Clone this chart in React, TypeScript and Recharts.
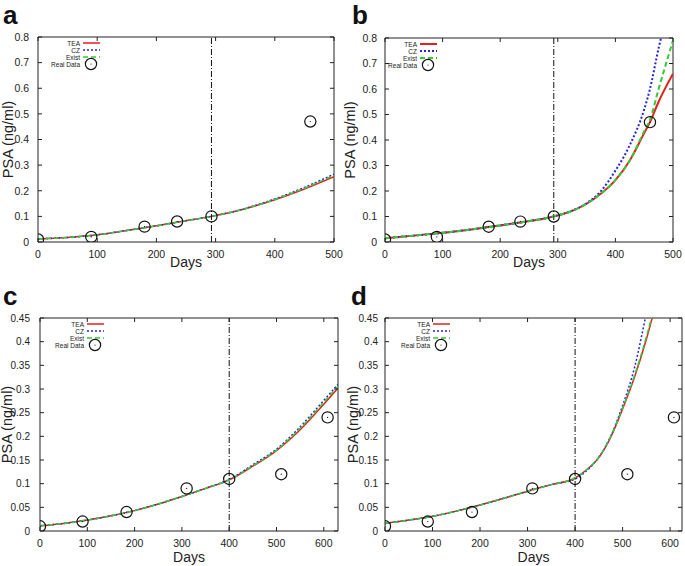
import { ComposedChart, Line, Scatter, XAxis, YAxis, ReferenceLine, Legend } from 'recharts';

// panels a/b: measured PSA
const abDataDays = [0, 90, 180, 235, 293, 460];
const abDataPSA = [0.01, 0.02, 0.06, 0.08, 0.1, 0.47];

// panel a model fits
const aDays = [0, 50, 100, 150, 200, 250, 293, 350, 400, 450, 500];
const aTEA = [0.012, 0.018, 0.028, 0.045, 0.063, 0.083, 0.1, 0.13, 0.165, 0.207, 0.255];
const aCZ = [0.012, 0.018, 0.028, 0.045, 0.063, 0.083, 0.1, 0.131, 0.168, 0.213, 0.265];
const aExist = [0.012, 0.018, 0.028, 0.045, 0.063, 0.083, 0.1, 0.13, 0.166, 0.21, 0.26];

// panel b model fits
const bDays = [0, 50, 100, 150, 200, 250, 293, 325, 350, 375, 400, 425, 450, 460, 475, 500];
const bTEA = [0.015, 0.025, 0.036, 0.049, 0.065, 0.082, 0.1, 0.122, 0.15, 0.19, 0.243, 0.32, 0.427, 0.47, 0.55, 0.66];
const bCZ = [0.015, 0.025, 0.036, 0.049, 0.065, 0.082, 0.1, 0.123, 0.152, 0.2, 0.28, 0.38, 0.52, 0.6, 0.76, 0.98];
const bExist = [0.015, 0.025, 0.036, 0.049, 0.065, 0.082, 0.1, 0.122, 0.15, 0.19, 0.243, 0.32, 0.435, 0.48, 0.6, 0.79];

// panels c/d: measured PSA
const cdDataDays = [0, 90, 183, 310, 400, 510, 608];
const cdDataPSA = [0.01, 0.02, 0.04, 0.09, 0.11, 0.12, 0.24];

// panel c model fits
const cDays = [0, 50, 100, 150, 200, 250, 300, 350, 400, 450, 500, 550, 600, 630];
const cTEA = [0.011, 0.016, 0.023, 0.032, 0.043, 0.057, 0.073, 0.09, 0.108, 0.137, 0.17, 0.214, 0.268, 0.302];
const cCZ = [0.011, 0.016, 0.023, 0.032, 0.043, 0.057, 0.073, 0.09, 0.109, 0.14, 0.173, 0.22, 0.276, 0.31];
const cExist = [0.011, 0.016, 0.023, 0.032, 0.043, 0.057, 0.073, 0.09, 0.108, 0.138, 0.171, 0.217, 0.272, 0.306];

// panel d model fits
const dDays = [0, 50, 100, 150, 200, 250, 300, 350, 400, 425, 450, 475, 500, 525, 550, 575];
const dTEA = [0.016, 0.023, 0.031, 0.042, 0.055, 0.069, 0.084, 0.098, 0.112, 0.13, 0.155, 0.198, 0.258, 0.325, 0.405, 0.5];
const dCZ = [0.016, 0.023, 0.031, 0.042, 0.055, 0.069, 0.084, 0.098, 0.11, 0.128, 0.156, 0.2, 0.265, 0.345, 0.46, 0.58];
const dExist = [0.016, 0.023, 0.031, 0.042, 0.055, 0.069, 0.084, 0.098, 0.112, 0.13, 0.156, 0.2, 0.26, 0.328, 0.41, 0.505];

const abXTicks = [0, 100, 200, 300, 400, 500];
const abYTicks = [0, 0.1, 0.2, 0.3, 0.4, 0.5, 0.6, 0.7, 0.8];
const cdXTicks = [0, 100, 200, 300, 400, 500, 600];
const cdYTicks = [0, 0.05, 0.1, 0.15, 0.2, 0.25, 0.3, 0.35, 0.4, 0.45];

const FONT = "'Liberation Sans', Arial, sans-serif";
const INK = '#222';
const RED = '#e3211c';
const BLUE = '#2424d8';
const GREEN = '#35c935';
const TICK_LEN = 4;

type Pt = { x: number; y: number };
const zip = (xs: number[], ys: number[]): Pt[] => xs.map((x, i) => ({ x, y: ys[i] }));

const Ring = (props: any) => {
  const { cx, cy } = props;
  if (cx == null || cy == null) return null;
  return (
    <g>
      <circle cx={cx} cy={cy} r={5.6} fill="none" stroke="#111" strokeWidth={1.2} />
      <circle cx={cx} cy={cy} r={0.6} fill="#111" />
    </g>
  );
};

// gnuplot style: inward ticks mirrored on the opposite side of the box
const makeXTick = (top: number, bottom: number) => (props: any) => {
  const { x, payload } = props;
  return (
    <g>
      <line x1={x} x2={x} y1={bottom} y2={bottom - TICK_LEN} stroke={INK} />
      <line x1={x} x2={x} y1={top} y2={top + TICK_LEN} stroke={INK} />
      <text x={x} y={bottom + 15.5} textAnchor="middle" fontSize={10.5} fill={INK} fontFamily={FONT}>
        {String(payload.value)}
      </text>
    </g>
  );
};

const makeYTick = (left: number, right: number, gap: number, size: number) => (props: any) => {
  const { y, payload } = props;
  return (
    <g>
      <line x1={left} x2={left + TICK_LEN} y1={y} y2={y} stroke={INK} />
      <line x1={right} x2={right - TICK_LEN} y1={y} y2={y} stroke={INK} />
      <text x={left - gap} y={y + size * 0.36} textAnchor="end" fontSize={size} fill={INK} fontFamily={FONT}>
        {String(payload.value)}
      </text>
    </g>
  );
};

const legendRows = [
  { label: 'TEA', color: RED, dash: undefined },
  { label: 'CZ', color: BLUE, dash: '2 2' },
  { label: 'Exist', color: GREEN, dash: '5 3' },
];

const makeLegend = (textRight: number, lw: number) => () => (
  <svg width={textRight + 24} height={34} style={{ display: 'block' }}>
    {legendRows.map((r, i) => (
      <g key={r.label}>
        <text x={textRight} y={6 + 7 * i} textAnchor="end" dominantBaseline="central" fontSize={6.5} fill={INK} fontFamily={FONT}>
          {r.label}
        </text>
        <line x1={textRight + 3} x2={textRight + 20} y1={6 + 7 * i} y2={6 + 7 * i} stroke={r.color} strokeWidth={lw} strokeDasharray={r.dash} />
      </g>
    ))}
    <text x={textRight} y={27} textAnchor="end" dominantBaseline="central" fontSize={6.5} fill={INK} fontFamily={FONT}>
      Real Data
    </text>
    <Ring cx={textRight + 11} cy={27} />
  </svg>
);

interface PanelProps {
  letter: string;
  letterX: number;
  letterY: number;
  left: number;
  top: number;
  width: number;
  height: number;
  margin: { top: number; right: number; bottom: number; left: number };
  yWidth: number;
  xHeight: number;
  xMax: number;
  xTicks: number[];
  yMax: number;
  yTicks: number[];
  tea: Pt[];
  cz: Pt[];
  exist: Pt[];
  real: Pt[];
  split: number;
  yGap: number;
  yTickSize: number;
  yLabelOffset: number;
  xLabelOffset: number;
  legendRight: number;
  lineWidth: number;
}

const Panel = (p: PanelProps) => {
  const plotLeft = p.margin.left + p.yWidth;
  const plotRight = p.width - p.margin.right;
  const plotTop = p.margin.top;
  const plotBottom = p.height - p.margin.bottom - p.xHeight;
  return (
    <div style={{ position: 'absolute', left: p.left, top: p.top, width: p.width, height: p.height }}>
      <ComposedChart width={p.width} height={p.height} margin={p.margin}>
        <XAxis
          type="number"
          dataKey="x"
          domain={[0, p.xMax]}
          ticks={p.xTicks}
          interval={0}
          allowDataOverflow
          tick={makeXTick(plotTop, plotBottom)}
          tickLine={false}
          height={p.xHeight}
          stroke={INK}
          label={{ value: 'Days', position: 'insideBottom', offset: p.xLabelOffset, fill: INK, fontSize: 14, fontFamily: FONT }}
        />
        <YAxis
          type="number"
          domain={[0, p.yMax]}
          ticks={p.yTicks}
          interval={0}
          allowDataOverflow
          tick={makeYTick(plotLeft, plotRight, p.yGap, p.yTickSize)}
          tickLine={false}
          width={p.yWidth}
          stroke={INK}
          label={{ value: 'PSA (ng/ml)', angle: -90, position: 'insideLeft', offset: p.yLabelOffset, fill: INK, fontSize: 14.5, fontFamily: FONT, style: { textAnchor: 'middle' } }}
        />
        <ReferenceLine y={p.yMax} stroke={INK} strokeWidth={1} />
        <ReferenceLine x={p.xMax} stroke={INK} strokeWidth={1} />
        <ReferenceLine x={p.split} stroke="#111" strokeWidth={1} strokeDasharray="6 2 1 2" />
        <Line data={p.tea} dataKey="y" type="monotone" stroke={RED} strokeWidth={p.lineWidth} dot={false} isAnimationActive={false} />
        <Line data={p.cz} dataKey="y" type="monotone" stroke={BLUE} strokeWidth={p.lineWidth} strokeDasharray="2 2" dot={false} isAnimationActive={false} />
        <Line data={p.exist} dataKey="y" type="monotone" stroke={GREEN} strokeWidth={p.lineWidth} strokeDasharray="5 3" dot={false} isAnimationActive={false} />
        <Scatter data={p.real} dataKey="y" shape={Ring} isAnimationActive={false} />
        <Legend
          layout="vertical"
          align="center"
          verticalAlign="middle"
          content={makeLegend(p.legendRight, p.lineWidth)}
          wrapperStyle={{ left: plotLeft, top: plotTop, width: 'auto', height: 'auto' }}
        />
      </ComposedChart>
      <svg width={40} height={40} style={{ position: 'absolute', left: 0, top: 0, overflow: 'visible' }}>
        <text x={p.letterX} y={p.letterY} fontSize={26} fontWeight="bold" fill="#111" fontFamily={FONT}>
          {p.letter}
        </text>
      </svg>
    </div>
  );
};

const abReal = zip(abDataDays, abDataPSA);
const cdReal = zip(cdDataDays, cdDataPSA);

export default function App() {
  return (
    <div style={{ position: 'absolute', left: 0, top: 0, width: 685, height: 566, background: '#fff', fontFamily: FONT }}>
      <Panel
        letter="a" letterX={3} letterY={23.5}
        left={0} top={0} width={350} height={280}
        margin={{ top: 37, right: 16, bottom: 0, left: 0 }}
        yWidth={38} xHeight={38}
        xMax={500} xTicks={abXTicks} yMax={0.8} yTicks={abYTicks}
        tea={zip(aDays, aTEA)} cz={zip(aDays, aCZ)} exist={zip(aDays, aExist)} real={abReal}
        split={293} yGap={9} yTickSize={10.5} yLabelOffset={8} xLabelOffset={13} legendRight={42} lineWidth={1.5}
      />
      <Panel
        letter="b" letterX={10} letterY={23.5}
        left={342} top={0} width={343} height={280}
        margin={{ top: 38, right: 12, bottom: 0, left: 0 }}
        yWidth={43} xHeight={38}
        xMax={500} xTicks={abXTicks} yMax={0.8} yTicks={abYTicks}
        tea={zip(bDays, bTEA)} cz={zip(bDays, bCZ)} exist={zip(bDays, bExist)} real={abReal}
        split={293} yGap={8} yTickSize={10.5} yLabelOffset={8} xLabelOffset={13} legendRight={32} lineWidth={2}
      />
      <Panel
        letter="c" letterX={3} letterY={24.5}
        left={0} top={280} width={342} height={286}
        margin={{ top: 38, right: 4, bottom: 0, left: 0 }}
        yWidth={40} xHeight={35}
        xMax={630} xTicks={cdXTicks} yMax={0.45} yTicks={cdYTicks}
        tea={zip(cDays, cTEA)} cz={zip(cDays, cCZ)} exist={zip(cDays, cExist)} real={cdReal}
        split={400} yGap={10} yTickSize={10} yLabelOffset={6.8} xLabelOffset={4.5} legendRight={44} lineWidth={1.5}
      />
      <Panel
        letter="d" letterX={9} letterY={25}
        left={342} top={280} width={343} height={286}
        margin={{ top: 38, right: 3, bottom: 0, left: 0 }}
        yWidth={43} xHeight={35}
        xMax={625} xTicks={cdXTicks} yMax={0.45} yTicks={cdYTicks}
        tea={zip(dDays, dTEA)} cz={zip(dDays, dCZ)} exist={zip(dDays, dExist)} real={cdReal}
        split={400} yGap={7} yTickSize={10} yLabelOffset={11} xLabelOffset={4.5} legendRight={45} lineWidth={1.5}
      />
    </div>
  );
}
